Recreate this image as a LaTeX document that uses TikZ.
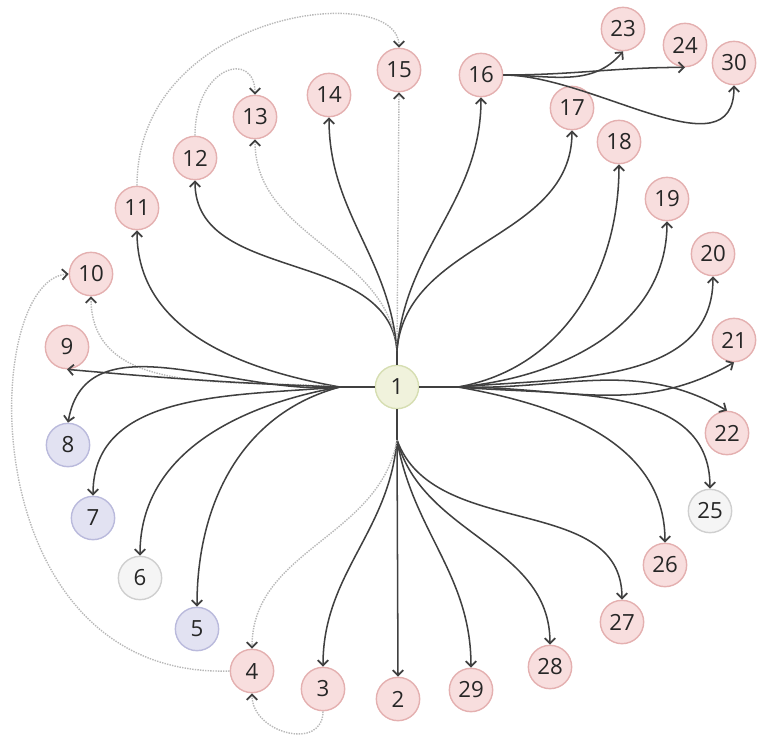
\documentclass[tikz,border=0pt]{standalone}
\usepackage{fontspec}
\setsansfont{Open Sans}
\usetikzlibrary{arrows.meta}
\definecolor{pinkfill}{HTML}{F8DEDE}
\definecolor{pinkline}{HTML}{E4B0B0}
\definecolor{greenfill}{HTML}{F0F2DC}
\definecolor{greenline}{HTML}{D6DEB2}
\definecolor{lavfill}{HTML}{E2E2F2}
\definecolor{lavline}{HTML}{BABADC}
\definecolor{greyfill}{HTML}{F5F5F5}
\definecolor{greyline}{HTML}{CFCFCF}
\begin{document}
\begin{tikzpicture}[x=0.03cm,y=0.03cm,
	nd/.style={circle,line width=1.2pt,minimum size=1.3cm,inner sep=0pt,font=\sffamily\fontsize{19}{20}\selectfont,text=black!85},
	pk/.style={nd,fill=pinkfill,draw=pinkline},
	gn/.style={nd,fill=greenfill,draw=greenline},
	lv/.style={nd,fill=lavfill,draw=lavline},
	gy/.style={nd,fill=greyfill,draw=greyline},
	stub/.style={draw=black!75,line width=1.3pt},
	edge/.style={draw=black!75,line width=1.3pt,-{Straight Barb[length=4.5pt,width=9pt,line width=1.5pt]}},
	dotedge/.style={draw=black!28,line width=1.2pt,densely dotted,-{Straight Barb[length=4.5pt,width=9pt,line width=1.5pt,color=black!75]}}]
\useasboundingbox (0,0) rectangle (759,-744);
\node[gn] (n1) at (397,-387) {1};
\node[pk] (n2) at (398,-699) {2};
\node[pk] (n3) at (323,-689) {3};
\node[pk] (n4) at (252,-671) {4};
\node[lv] (n5) at (197,-629) {5};
\node[gy] (n6) at (140,-578) {6};
\node[lv] (n7) at (93,-518) {7};
\node[lv] (n8) at (68,-445) {8};
\node[pk] (n9) at (67,-347) {9};
\node[pk] (n10) at (91,-274) {10};
\node[pk] (n11) at (137,-208) {11};
\node[pk] (n12) at (195,-158) {12};
\node[pk] (n13) at (255,-117) {13};
\node[pk] (n14) at (329,-95) {14};
\node[pk] (n15) at (399,-70) {15};
\node[pk] (n16) at (481,-75) {16};
\node[pk] (n17) at (572,-108) {17};
\node[pk] (n18) at (619,-142) {18};
\node[pk] (n19) at (667,-199) {19};
\node[pk] (n20) at (713,-254) {20};
\node[pk] (n21) at (734,-340) {21};
\node[pk] (n22) at (727,-433) {22};
\node[pk] (n23) at (623,-29) {23};
\node[pk] (n24) at (685,-45) {24};
\node[gy] (n25) at (710,-511) {25};
\node[pk] (n26) at (665,-565) {26};
\node[pk] (n27) at (622,-622) {27};
\node[pk] (n28) at (550,-667) {28};
\node[pk] (n29) at (471,-690) {29};
\node[pk] (n30) at (734,-63) {30};
\coordinate (ft) at (397,-350);
\coordinate (fl) at (340,-387);
\coordinate (fr) at (458,-387);
\coordinate (fb) at (397,-440);
\draw[stub] (n1.north) -- (ft);
\draw[stub] (n1.west) -- (fl);
\draw[stub] (n1.east) -- (fr);
\draw[stub] (n1.south) -- (fb);
\draw[edge] (ft) to[out=95,in=-90] (n12.south);
\draw[dotedge] (ft) to[out=95,in=-90] (n13.south);
\draw[edge] (ft) to[out=95,in=-90] (n14.south);
\draw[dotedge] (ft) -- (n15.south);
\draw[edge] (ft) to[out=85,in=-90] (n16.south);
\draw[edge] (ft) to[out=85,in=-90] (n17.south);
\draw[edge] (fl) to[out=170,in=-90] (n11.south);
\draw[dotedge] (fl) to[out=175,in=-90] (n10.south);
\draw[edge] (fl) to[out=178,in=-5] (n9.south);
\draw[edge] (fl) to[out=185,in=80] (n8.north);
\draw[edge] (fl) to[out=185,in=90] (n7.north);
\draw[edge] (fl) to[out=190,in=90] (n6.north);
\draw[edge] (fl) to[out=195,in=90] (n5.north);
\draw[edge] (fr) to[out=10,in=-90] (n18.south);
\draw[edge] (fr) to[out=5,in=-90] (n19.south);
\draw[edge] (fr) to[out=5,in=-90] (n20.south);
\draw[edge] (fr) to[out=0,in=-150] (n21.south);
\draw[edge] (fr) to[out=-2,in=150] (n22.north);
\draw[edge] (fr) to[out=-5,in=90] (n25.north);
\draw[edge] (fr) to[out=-10,in=90] (n26.north);
\draw[edge] (fb) -- (n2.north);
\draw[edge] (fb) to[out=-80,in=90] (n29.north);
\draw[edge] (fb) to[out=-75,in=90] (n28.north);
\draw[edge] (fb) to[out=-70,in=90] (n27.north);
\draw[edge] (fb) to[out=-95,in=90] (n3.north);
\draw[dotedge] (fb) to[out=-100,in=90] (n4.north);
\draw[edge] (n16.east) to[out=0,in=-130] (n23.south);
\draw[edge] (n16.east) to[out=0,in=180] (n24.south);
\draw[edge] (n16.east) to[out=0,in=-90] (n30.south);
\draw[dotedge] (n11.north) .. controls +(0,176) and +(0,68) .. (n15.north);
\draw[dotedge] (n12.north) .. controls +(0,70) and +(0,45) .. (n13.north);
\draw[dotedge] (n4.west) .. controls +(-259,-8) and +(-89,-6) .. (n10.west);
\draw[dotedge] (n3.south) .. controls +(0,-40) and +(0,-40) .. (n4.south);
\end{tikzpicture}
\end{document}
